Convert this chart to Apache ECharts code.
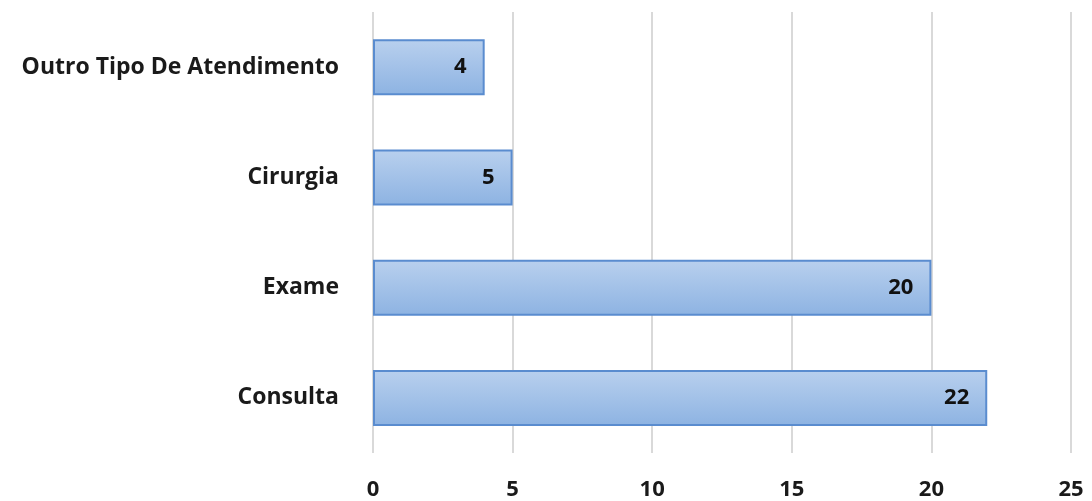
<!DOCTYPE html>
<html><head><meta charset="utf-8">
<script src="https://cdn.jsdelivr.net/npm/echarts@6/dist/echarts.min.js"></script>
<style>html,body{margin:0;padding:0;background:#fff}#c{width:1092px;height:501px}</style>
</head><body><div id="c"></div>
<script>
const categories = ['Consulta', 'Exame', 'Cirurgia', 'Outro Tipo De Atendimento'];
const values = [22, 20, 5, 4];
const xTicks = [0, 5, 10, 15, 20, 25];

const chart = echarts.init(document.getElementById('c'));
const font = '"Open Sans", sans-serif';
chart.setOption({
  animation: false,
  grid: { left: 373, right: 21, top: 12, bottom: 46, containLabel: false },
  xAxis: {
    type: 'value', min: xTicks[0], max: xTicks[xTicks.length - 1], interval: 5,
    axisLine: { show: false }, axisTick: { show: false },
    splitLine: { lineStyle: { color: '#d9d9d9', width: 2 } },
    axisLabel: { margin: 26, fontFamily: font, fontWeight: 'bold', fontSize: 22, color: '#1a1a1a' }
  },
  yAxis: {
    type: 'category', data: categories,
    axisLine: { show: false }, axisTick: { show: false },
    axisLabel: { margin: 34, fontFamily: font, fontWeight: 'bold', fontSize: 23, color: '#1a1a1a' }
  },
  series: [{
    type: 'bar', data: values, barWidth: 56,
    itemStyle: {
      color: new echarts.graphic.LinearGradient(0, 0, 0, 1, [
        { offset: 0, color: '#b9d0ee' }, { offset: 1, color: '#8db3e2' }
      ]),
      borderColor: '#5a8ccf', borderWidth: 2
    },
    label: { show: true, position: 'insideRight', distance: 18, fontFamily: font, fontWeight: 'bold', fontSize: 22, color: '#111' }
  }]
});
</script></body></html>
